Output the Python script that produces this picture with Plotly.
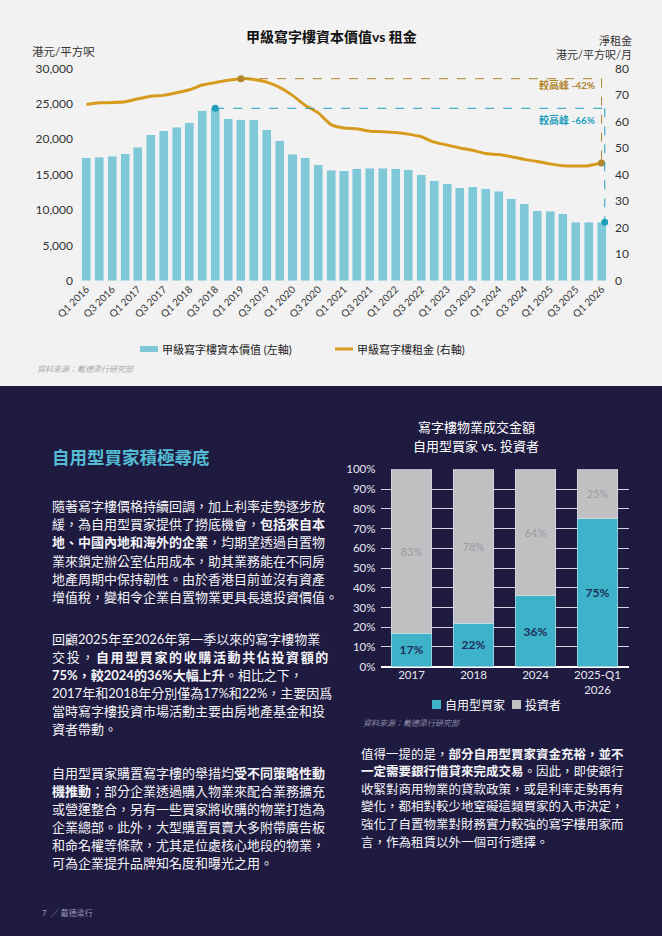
import plotly.graph_objects as go

W, H = 662, 936


def px(x):
    return x / W


def py(y):
    return 1 - y / H


FONT = "Lato, 'Noto Sans CJK TC', sans-serif"
CJK = "'Noto Sans CJK TC', Lato, sans-serif"

# ---------------- data: top chart ----------------
quarters = [f"Q{q} {y}" for y in range(2016, 2027) for q in range(1, 5)][:41]
capital_values = [17400, 17450, 17550, 17950, 18850, 20650, 21200, 21700, 22300, 24000,
                  24350, 22850, 22700, 22700, 21350, 19750, 17850, 17350, 16350, 15600,
                  15550, 15800, 15850, 15900, 15800, 15650, 14950, 14150, 13700, 13150,
                  13250, 13000, 12650, 11600, 10850, 9850, 9800, 9450, 8250, 8250, 8250]
rent = [66.4, 67.0, 67.1, 67.4, 68.5, 69.5, 69.8, 70.8, 71.9, 73.7,
        74.6, 75.5, 76.1, 75.8, 74.8, 72.8, 69.8, 66.0, 63.2, 58.8,
        57.5, 57.2, 56.3, 56.1, 55.8, 55.2, 54.2, 52.2, 51.1, 50.0,
        49.1, 47.9, 47.5, 46.7, 45.7, 44.9, 44.0, 43.3, 43.2, 43.3, 44.3]
left_ticks = [0, 5000, 10000, 15000, 20000, 25000, 30000]
right_ticks = [0, 10, 20, 30, 40, 50, 60, 70, 80]

# ---------------- data: bottom chart ----------------
years = ["2017", "2018", "2024", "2025-Q1<br>2026"]
owner_share = [17, 22, 36, 75]
investor_share = [83, 78, 64, 25]
pct_ticks = [0, 10, 20, 30, 40, 50, 60, 70, 80, 90, 100]
pct_labels = [f"{v}%" for v in pct_ticks]

TEAL_LIGHT = "#7fc8d7"
TEAL_DARK = "#1f9fbb"
GOLD = "#d69a1c"
GOLD_DARK = "#b0852c"
NAVY = "#1e1a40"
OWNER = "#3db2c9"
INVEST = "#bfc0c2"

idx = list(range(len(quarters)))
i_cap_peak = capital_values.index(max(capital_values))
i_rent_peak = rent.index(max(rent))
last = len(quarters) - 1
cap_drop = round((capital_values[-1] / capital_values[i_cap_peak] - 1) * 100)
rent_drop = round((rent[-1] / rent[i_rent_peak] - 1) * 100)

fig = go.Figure()

fig.add_trace(go.Bar(x=idx, y=capital_values, width=0.7, marker_color=TEAL_LIGHT,
                     xaxis="x", yaxis="y", showlegend=False, hoverinfo="skip"))
fig.add_trace(go.Scatter(x=idx, y=rent, mode="lines", line=dict(color=GOLD, width=3, shape="spline", smoothing=0.6),
                         xaxis="x", yaxis="y2", showlegend=False))
fig.add_trace(go.Scatter(x=[i_cap_peak, last + 0.25], y=[capital_values[i_cap_peak], capital_values[-1]],
                         mode="markers", marker=dict(color=TEAL_DARK, size=7),
                         xaxis="x", yaxis="y", showlegend=False))
fig.add_trace(go.Scatter(x=[i_rent_peak, last], y=[rent[i_rent_peak], rent[-1]],
                         mode="markers", marker=dict(color=GOLD_DARK, size=7),
                         xaxis="x", yaxis="y2", showlegend=False))

fig.add_trace(go.Bar(x=years, y=owner_share, width=0.66, marker_color=OWNER,
                     texttemplate="<b>%{y}%</b>", textposition="inside", insidetextanchor="middle",
                     textfont=dict(color="#1d2f5c", size=12, family=FONT), constraintext="none",
                     xaxis="x3", yaxis="y3", showlegend=False))
fig.add_trace(go.Bar(x=years, y=investor_share, width=0.66, marker_color=INVEST,
                     texttemplate="%{y}%", textposition="inside", insidetextanchor="middle",
                     textfont=dict(color="#9a9b9e", size=11, family=FONT), constraintext="none",
                     xaxis="x3", yaxis="y3", showlegend=False))

shapes = [
    dict(type="rect", xref="paper", yref="paper", x0=0, x1=1, y0=py(386), y1=1,
         fillcolor="#f2f2f2", line_width=0, layer="below"),
    dict(type="rect", xref="paper", yref="paper", x0=0, x1=1, y0=0, y1=py(386),
         fillcolor=NAVY, line_width=0, layer="below"),
    # peak guide lines
    dict(type="line", xref="x", yref="y2", x0=i_rent_peak, x1=last, y0=rent[i_rent_peak], y1=rent[i_rent_peak],
         line=dict(color=GOLD_DARK, width=1, dash="dash")),
    dict(type="line", xref="x", yref="y2", x0=last, x1=last, y0=rent[i_rent_peak], y1=rent[-1],
         line=dict(color=GOLD_DARK, width=1, dash="dash")),
    dict(type="line", xref="x", yref="y", x0=i_cap_peak, x1=last + 0.25,
         y0=capital_values[i_cap_peak], y1=capital_values[i_cap_peak],
         line=dict(color=TEAL_DARK, width=1, dash="dash")),
    dict(type="line", xref="x", yref="y", x0=last + 0.25, x1=last + 0.25,
         y0=capital_values[i_cap_peak], y1=capital_values[-1],
         line=dict(color=TEAL_DARK, width=1, dash="dash")),
    # top legend symbols
    dict(type="rect", xref="paper", yref="paper", x0=px(140), x1=px(158), y0=py(352), y1=py(346),
         fillcolor=TEAL_LIGHT, line_width=0),
    dict(type="line", xref="paper", yref="paper", x0=px(335), x1=px(353), y0=py(349), y1=py(349),
         line=dict(color=GOLD, width=3)),
    # bottom legend symbols
    dict(type="rect", xref="paper", yref="paper", x0=px(432), x1=px(441), y0=py(709), y1=py(700),
         fillcolor=OWNER, line_width=0),
    dict(type="rect", xref="paper", yref="paper", x0=px(512), x1=px(521), y0=py(709), y1=py(700),
         fillcolor=INVEST, line_width=0),
]

ann = []


def text(x, y, s, size=12, color="#333", anchor="left", family=FONT, valign="middle"):
    ann.append(dict(x=px(x), y=py(y), xref="paper", yref="paper", text=s, showarrow=False,
                    xanchor=anchor, yanchor=valign, font=dict(size=size, color=color, family=family)))


# top chart texts
text(331, 37, "<b>甲級寫字樓資本價值vs 租金</b>", 14, "#111", "center")
text(30, 51, "港元/平方呎", 11.5, "#333")
text(634, 41, "淨租金", 11, "#333", "right")
text(634, 54, "港元/平方呎/月", 11, "#333", "right")
text(597, 85, f"<b>較高峰 {rent_drop}%</b>", 10, GOLD_DARK, "right")
text(597, 120, f"<b>較高峰 {cap_drop}%</b>", 10, TEAL_DARK, "right")
text(160, 349, "甲級寫字樓資本價值 (左軸)", 11, "#222")
text(355, 349, "甲級寫字樓租金 (右軸)", 11, "#222")
text(35, 369, "<i>資料來源：戴德梁行研究部</i>", 8, "#aaaaaa")

# bottom chart texts
text(476, 427, "寫字樓物業成交金額", 13, "#ffffff", "center")
text(476, 446, "自用型買家 vs. 投資者", 13, "#ffffff", "center")
text(443, 705, "自用型買家", 12, "#ffffff")
text(523, 705, "投資者", 12, "#ffffff")
text(361, 723, "<i>資料來源：戴德梁行研究部</i>", 8, "#8e8ca8")

# left column
text(50, 456, "<b>自用型買家積極尋底</b>", 17.5, "#55bcd4", family=CJK)

T = "\u2009"
p1 = ["隨著寫字樓價格持續回調，加上利率走勢逐步放",
      "緩，為自用型買家提供了撈底機會，<b>包括來自本</b>",
      "<b>地、中國內地和海外的企業</b>，均期望透過自置物",
      "業來鎖定辦公室佔用成本，助其業務能在不同房",
      "地產周期中保持韌性。由於香港目前並沒有資產",
      "增值稅，變相令企業自置物業更具長遠投資價值。"]
p2 = ["回顧2025年至2026年第一季以來的寫字樓物業",
      T.join("交投，") + T + "<b>" + T.join("自用型買家的收購活動共佔投資額的") + "</b>",
      "<b>75%，較2024的36%大幅上升</b>。相比之下，",
      "2017年和2018年分別僅為17%和22%，主要因爲",
      "當時寫字樓投資市場活動主要由房地產基金和投",
      "資者帶動。"]
p3 = ["自用型買家購置寫字樓的舉措均<b>受不同策略性動</b>",
      "<b>機推動</b>；部分企業透過購入物業來配合業務擴充",
      "或營運整合，另有一些買家將收購的物業打造為",
      "企業總部。此外，大型購置買賣大多附帶廣告板",
      "和命名權等條款，尤其是位處核心地段的物業，",
      "可為企業提升品牌知名度和曝光之用。"]
p4 = ["值得一提的是，<b>部分自用型買家資金充裕，並不</b>",
      "<b>一定需要銀行借貸來完成交易</b>。因此，即使銀行",
      "收緊對商用物業的貸款政策，或是利率走勢再有",
      "變化，都相對較少地窒礙這類買家的入市決定，",
      "強化了自置物業對財務實力較強的寫字樓用家而",
      "言，作為租賃以外一個可行選擇。"]

for start, lines, x0, sz, step in [(506, p1, 50, 13, 18.2), (639, p2, 50, 13, 18.0),
                                    (773, p3, 50, 13, 18.0), (754, p4, 359, 12.5, 17.6)]:
    for k, s in enumerate(lines):
        text(x0, start + k * step, s, sz, "#f4f4f8", family=FONT)

text(40, 913, "7  ╱ 戴德梁行", 8, "#9a98b8")

fig.update_layout(
    width=W, height=H, margin=dict(l=0, r=0, t=0, b=0),
    paper_bgcolor=NAVY, plot_bgcolor="rgba(0,0,0,0)",
    barmode="stack", bargap=0.3, showlegend=False,
    font=dict(family=FONT),
    shapes=shapes, annotations=ann,
    xaxis=dict(domain=[px(80), px(608)], anchor="y", range=[-0.5, len(quarters) - 0.5],
               tickvals=idx[::2], ticktext=quarters[::2], tickangle=-45,
               tickfont=dict(size=10, color="#333"), showgrid=False, zeroline=False,
               showline=False, ticks="", automargin=False),
    yaxis=dict(domain=[py(280.7), py(68.3)], anchor="x", range=[0, 30000], tickvals=left_ticks,
               tickformat=",", tickfont=dict(size=12, color="#333"), showgrid=False,
               zeroline=False, ticks="", ticklabelstandoff=6, automargin=False),
    yaxis2=dict(overlaying="y", side="right", anchor="x", range=[0, 80], tickvals=right_ticks,
                tickfont=dict(size=12, color="#333"), showgrid=False, zeroline=False,
                ticks="", ticklabelstandoff=6, automargin=False),
    xaxis3=dict(domain=[px(380.5), px(628.5)], anchor="y3", tickfont=dict(size=11.5, color="#e8e8f0"),
                showgrid=False, zeroline=False, ticks="", automargin=False),
    yaxis3=dict(domain=[py(666.7), py(469.3)], anchor="x3", range=[0, 100], tickmode="array",
                tickvals=pct_ticks, ticktext=pct_labels,
                tickfont=dict(size=11.5, color="#e8e8f0"), showgrid=True,
                gridcolor="#d4d4e2", gridwidth=1, zeroline=True, zerolinecolor="#ffffff",
                zerolinewidth=1.5, ticks="", ticklabelstandoff=4, automargin=False),
)

fig.write_html("out.html")
